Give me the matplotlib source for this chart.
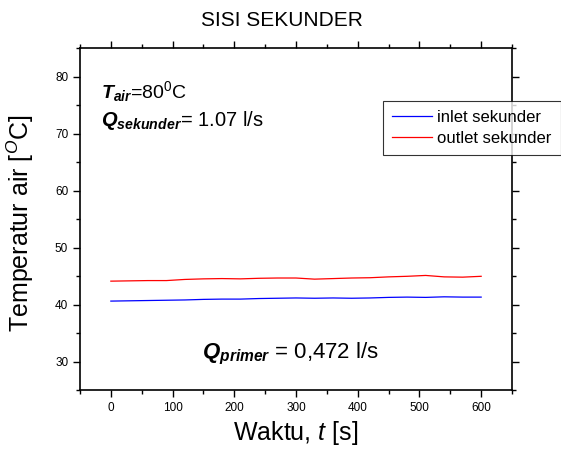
import matplotlib.pyplot as plt

plt.rcParams["font.family"] = ["Liberation Sans", "DejaVu Sans"]
plt.rcParams["mathtext.fontset"] = "custom"
plt.rcParams["mathtext.rm"] = "Liberation Sans"
plt.rcParams["mathtext.it"] = "Liberation Sans:italic"
plt.rcParams["mathtext.bf"] = "Liberation Sans:bold"
plt.rcParams["mathtext.bfit"] = "Liberation Sans:bold:italic"

time_s = [0, 30, 60, 90, 120, 150, 180, 210, 240, 270, 300,
          330, 360, 390, 420, 450, 480, 510, 540, 570, 600]
inlet = [40.6, 40.65, 40.7, 40.75, 40.8, 40.9, 40.95, 40.95, 41.05, 41.1, 41.15,
         41.1, 41.15, 41.1, 41.15, 41.25, 41.3, 41.25, 41.35, 41.3, 41.3]
outlet = [44.1, 44.15, 44.2, 44.2, 44.4, 44.5, 44.55, 44.5, 44.6, 44.65, 44.65,
          44.45, 44.55, 44.65, 44.7, 44.85, 44.95, 45.1, 44.85, 44.8, 44.95]

fig = plt.figure(figsize=(5.61, 4.5), dpi=100)
ax = fig.add_axes([0.1426, 0.1333, 0.7701, 0.76])

ax.plot(time_s, inlet, color="blue", linewidth=0.9, label="inlet sekunder")
ax.plot(time_s, outlet, color="red", linewidth=0.9, label="outlet sekunder")

ax.set_xlim(-50, 650)
ax.set_ylim(25, 85)
ax.set_xticks(range(0, 601, 100))
ax.set_xticks(range(-50, 651, 50), minor=True)
ax.set_yticks(range(30, 81, 10))
ax.set_yticks(range(25, 86, 5), minor=True)
ax.tick_params(axis="both", which="both", direction="out", labelsize=8.5,
               top=True, right=True, width=1)
ax.tick_params(which="major", length=5)
ax.tick_params(which="minor", length=3)
for s in ax.spines.values():
    s.set_linewidth(1.2)

ax.set_xlabel("Waktu, $\\mathit{t}$ [s]", fontsize=18, va="center")
ax.xaxis.set_label_coords(0.5, -0.125)
ax.set_ylabel("Temperatur air [$^{O}$C]", fontsize=18, va="center")
ax.yaxis.set_label_coords(-0.139, 0.488)
fig.text(282 / 561, 1 - 20 / 450, "SISI SEKUNDER", ha="center", va="center",
         fontsize=15)

fig.text(101 / 561, 1 - 98 / 450, r"$\mathbfit{T}_{\mathbfit{air}}$=80$^{0}$C",
         fontsize=14, va="baseline")
fig.text(101 / 561, 1 - 126 / 450, r"$\mathbfit{Q}_{\mathbfit{sekunder}}$= 1.07 l/s",
         fontsize=14.5, va="baseline")
fig.text(202 / 561, 1 - 358 / 450, r"$\mathbfit{Q}_{\mathbfit{primer}}$ = 0,472 l/s",
         fontsize=16, va="baseline")

leg = fig.legend(loc="upper left", bbox_to_anchor=(383 / 561, 1 - 101 / 450),
                 fontsize=12, frameon=True, fancybox=False, borderpad=0.55,
                 handlelength=2.4, handletextpad=0.3, labelspacing=0.35,
                 borderaxespad=0)
leg.get_frame().set_edgecolor("black")
leg.get_frame().set_linewidth(0.8)

fig.savefig("out.png", dpi=100)
